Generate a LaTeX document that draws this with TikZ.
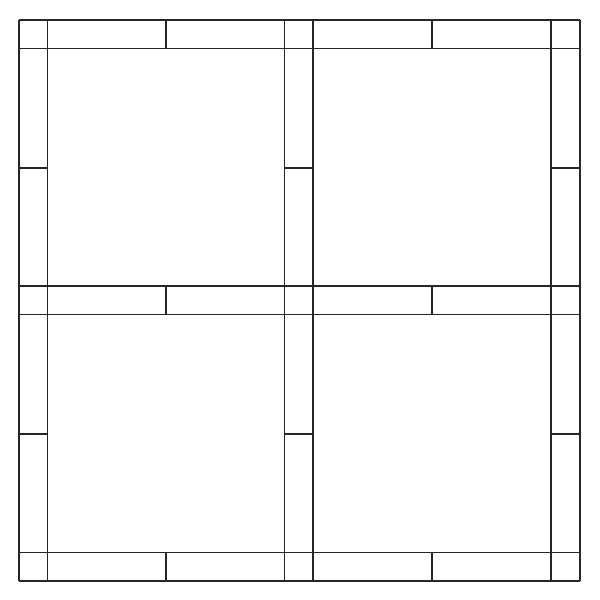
\documentclass[tikz,border=0pt]{standalone}
\begin{document}
\begin{tikzpicture}[x=1pt,y=-1pt,seam/.style={line width=1.1pt,draw=black!85}]
\useasboundingbox (0,0) rectangle (600,600);
\fill[white] (0,0) rectangle (600,600);
% grid lines
\foreach \x in {19,47.5,284.5,313,551,580}
  \draw[seam] (\x,20) -- (\x,581);
\foreach \y in {20,48.5,286,314.5,552.5,581}
  \draw[seam] (19,\y) -- (580,\y);
% splits in horizontal sashing strips
\foreach \ya/\yb in {20/48.5,286/314.5,552.5/581}
  \foreach \x in {166,432}
    \draw[seam] (\x,\ya) -- (\x,\yb);
% splits in vertical sashing strips
\foreach \xa/\xb in {19/47.5,284.5/313,551/580}
  \foreach \y in {168,434}
    \draw[seam] (\xa,\y) -- (\xb,\y);
\end{tikzpicture}
\end{document}
